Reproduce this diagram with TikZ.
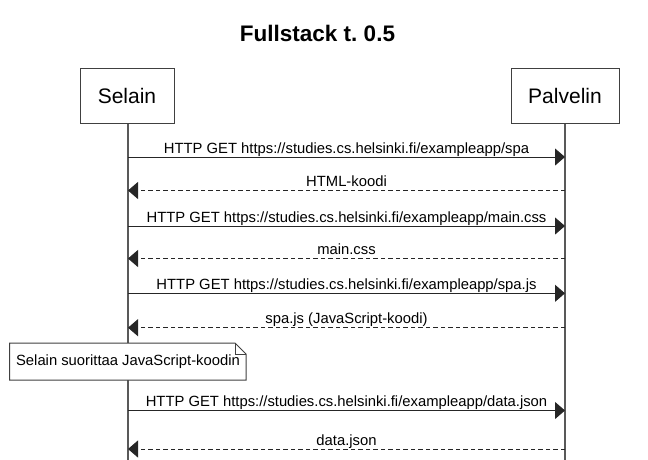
\documentclass[tikz,border=0pt]{standalone}
\usepackage{fontspec}
\setmainfont{Liberation Sans}
\usetikzlibrary{arrows.meta}
\frenchspacing
\begin{document}
\begin{tikzpicture}[x=1pt,y=-1pt,
  actor/.style={draw=black!75, line width=1pt, minimum width=94pt, minimum height=55pt, inner sep=0pt, font=\fontsize{21}{25}\selectfont},
  life/.style={draw=black!65, line width=1.3pt},
  msg/.style={draw=black!85, line width=1pt, -{Triangle[length=10pt,width=17pt]}},
  reply/.style={msg, dash pattern=on 4.5pt off 3pt},
  lbl/.style={anchor=base, inner sep=0pt, font=\fontsize{14.8}{17}\selectfont},
  notebox/.style={draw=black!75, line width=1pt, fill=white}
]
\useasboundingbox (0,0) rectangle (648,459);
\node[font=\bfseries\fontsize{22.5}{26}\selectfont, anchor=base] (title) at (317.5,41.7) {Fullstack t.\ 0.5};
\node[actor] (selain) at (127,95.8) {Selain};
\node[actor, minimum width=108pt] (palvelin) at (565,95.8) {Palvelin};
\coordinate (sEnd) at (128,462);
\coordinate (pEnd) at (565,462);
\draw[life] (selain.south -| sEnd) -- (sEnd);
\draw[life] (palvelin.south -| pEnd) -- (pEnd);
% messages
\foreach \i/\y in {1/157,2/190.5,3/226,4/258.5,5/293.3,6/327.7,7/410.5,8/449}{
  \coordinate (s\i) at (128,\y);
  \coordinate (p\i) at (565,\y);
}
\draw[msg] (s1) -- (p1) node[lbl, midway, yshift=4pt] (m1) {HTTP GET https://studies.cs.helsinki.fi/exampleapp/spa};
\draw[reply] (p2) -- (s2) node[lbl, midway, yshift=4pt] (m2) {HTML-koodi};
\draw[msg] (s3) -- (p3) node[lbl, midway, yshift=4pt] (m3) {HTTP GET https://studies.cs.helsinki.fi/exampleapp/main.css};
\draw[reply] (p4) -- (s4) node[lbl, midway, yshift=4pt] (m4) {main.css};
\draw[msg] (s5) -- (p5) node[lbl, midway, yshift=4pt] (m5) {HTTP GET https://studies.cs.helsinki.fi/exampleapp/spa.js};
\draw[reply] (p6) -- (s6) node[lbl, midway, yshift=4pt] (m6) {spa.js (JavaScript-koodi)};
\draw[msg] (s7) -- (p7) node[lbl, midway, yshift=4pt] (m7) {HTTP GET https://studies.cs.helsinki.fi/exampleapp/data.json};
\draw[reply] (p8) -- (s8) node[lbl, midway, yshift=4pt] (m8) {data.json};
% note
\draw[notebox] (9.5,343) -- (235,343) -- (246,354) -- (246,380) -- (9.5,380) -- cycle;
\draw[draw=black!75, line width=0.8pt] (235,343) -- (235,354) -- (246,354);
\node[lbl, anchor=center, font=\fontsize{14.8}{17}\selectfont] (note) at (128,362) {Selain suorittaa JavaScript-koodin};
\end{tikzpicture}
\end{document}
